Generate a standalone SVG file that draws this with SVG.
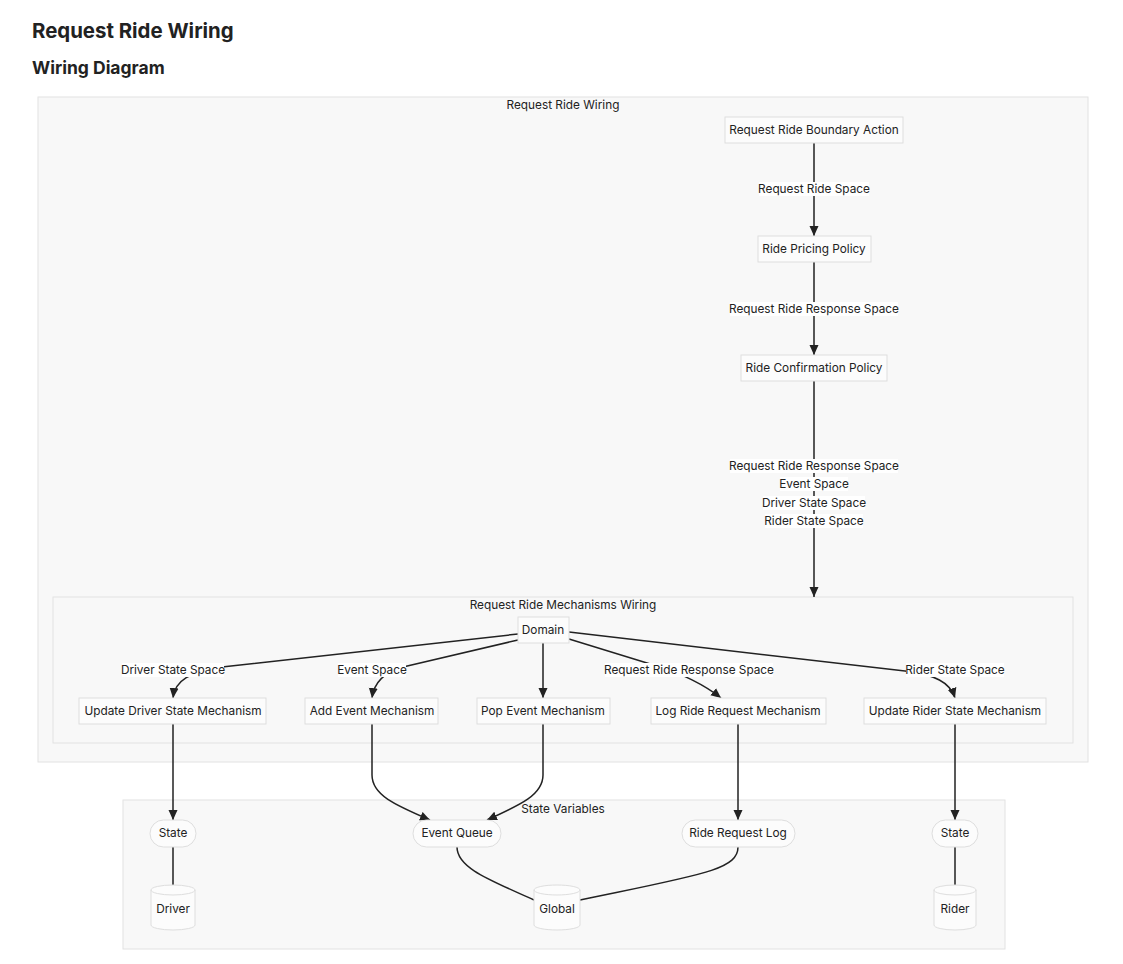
<svg xmlns="http://www.w3.org/2000/svg" width="1123" height="964" viewBox="0 0 1123 964">
<defs>
<marker id="arr" viewBox="0 0 10 10" refX="10" refY="5" markerWidth="10" markerHeight="10" orient="auto" markerUnits="userSpaceOnUse"><path d="M0,0.5 L10,5 L0,9.5 z" fill="#222"/></marker>
<style>
.t{font-family:Inter,"Liberation Sans",sans-serif;font-size:11.8px;fill:#222;text-anchor:middle;dominant-baseline:central}
.h1{font-family:Inter,"Liberation Sans",sans-serif;font-size:20.4px;font-weight:700;fill:#222}
.h2{font-family:Inter,"Liberation Sans",sans-serif;font-size:17.5px;font-weight:700;fill:#222}
.cl{fill:#f8f8f8;stroke:#e2e2e2;stroke-width:1}
.n{fill:#fcfcfc;stroke:#dedede;stroke-width:1}
.e{fill:none;stroke:#222;stroke-width:1.5}
.lb{fill:#ffffff}
</style>
</defs>
<rect width="1123" height="964" fill="#ffffff"/>
<text class="h1" x="32" y="38">Request Ride Wiring</text>
<text class="h2" x="32" y="74">Wiring Diagram</text>

<g id="cluster-wiring">
<rect class="cl" x="38" y="97" width="1050" height="665"/>
<text class="t" x="563" y="105">Request Ride Wiring</text>
</g>
<g id="cluster-mechanisms">
<rect class="cl" x="53" y="597" width="1020" height="146"/>
<text class="t" x="563" y="605">Request Ride Mechanisms Wiring</text>
</g>
<g id="cluster-state">
<rect class="cl" x="123" y="800" width="882" height="149"/>
<text class="t" x="563" y="809">State Variables</text>
</g>

<g id="connectors">
<path class="e" d="M814,143 L814,236" marker-end="url(#arr)"/>
<path class="e" d="M814,262 L814,355" marker-end="url(#arr)"/>
<path class="e" d="M814,381 L814,597" marker-end="url(#arr)"/>
<path class="e" d="M518,634 L222,667 C190,672 175,680 173,698" marker-end="url(#arr)"/>
<path class="e" d="M518,640 L403,667 C385,672 374,682 372,698" marker-end="url(#arr)"/>
<path class="e" d="M543,643 L543,698" marker-end="url(#arr)"/>
<path class="e" d="M569,639 L660,667 C680,673 705,685 721,698" marker-end="url(#arr)"/>
<path class="e" d="M569,632 L905,671 C935,675 950,682 955,698" marker-end="url(#arr)"/>
<path class="e" d="M173,724 L173,820" marker-end="url(#arr)"/>
<path class="e" d="M372,724 L372,775 C372,795 395,805 430,820" marker-end="url(#arr)"/>
<path class="e" d="M543,724 L543,775 C543,795 520,805 487,820" marker-end="url(#arr)"/>
<path class="e" d="M738,724 L738,820" marker-end="url(#arr)"/>
<path class="e" d="M955,724 L955,820" marker-end="url(#arr)"/>
<path class="e" d="M173,847 L173,885"/>
<path class="e" d="M457,847 C457,868 490,880 534,900"/>
<path class="e" d="M738,847 C738,870 700,875 580,900"/>
<path class="e" d="M955,847 L955,885"/>
</g>

<g id="edge-labels">
<rect class="lb" x="759" y="182" width="110" height="14"/>
<text class="t" x="814" y="189">Request Ride Space</text>
<rect class="lb" x="730" y="302" width="168" height="14"/>
<text class="t" x="814" y="309">Request Ride Response Space</text>
<rect class="lb" x="730" y="459" width="168" height="14"/>
<text class="t" x="814" y="466">Request Ride Response Space</text>
<rect class="lb" x="780" y="477" width="68" height="14"/>
<text class="t" x="814" y="484">Event Space</text>
<rect class="lb" x="763" y="496" width="102" height="14"/>
<text class="t" x="814" y="503">Driver State Space</text>
<rect class="lb" x="765" y="514" width="98" height="14"/>
<text class="t" x="814" y="521">Rider State Space</text>
<rect class="lb" x="122" y="663" width="102" height="14"/>
<text class="t" x="173" y="670">Driver State Space</text>
<rect class="lb" x="338" y="663" width="68" height="14"/>
<text class="t" x="372" y="670">Event Space</text>
<rect class="lb" x="605" y="663" width="168" height="14"/>
<text class="t" x="689" y="670">Request Ride Response Space</text>
<rect class="lb" x="906" y="663" width="98" height="14"/>
<text class="t" x="955" y="670">Rider State Space</text>
</g>

<g id="node-boundary"><rect class="n" x="725" y="117" width="178" height="26"/><text class="t" x="814" y="130">Request Ride Boundary Action</text></g>
<g id="node-pricing"><rect class="n" x="758" y="236" width="113" height="26"/><text class="t" x="814" y="249">Ride Pricing Policy</text></g>
<g id="node-confirmation"><rect class="n" x="741" y="355" width="146" height="26"/><text class="t" x="814" y="368">Ride Confirmation Policy</text></g>
<g id="node-domain"><rect class="n" x="518" y="617" width="51" height="26"/><text class="t" x="543" y="630">Domain</text></g>
<g id="node-update-driver"><rect class="n" x="79" y="698" width="187" height="26"/><text class="t" x="173" y="711">Update Driver State Mechanism</text></g>
<g id="node-add-event"><rect class="n" x="305" y="698" width="133" height="26"/><text class="t" x="372" y="711">Add Event Mechanism</text></g>
<g id="node-pop-event"><rect class="n" x="477" y="698" width="133" height="26"/><text class="t" x="543" y="711">Pop Event Mechanism</text></g>
<g id="node-log-ride"><rect class="n" x="651" y="698" width="175" height="26"/><text class="t" x="738" y="711">Log Ride Request Mechanism</text></g>
<g id="node-update-rider"><rect class="n" x="864" y="698" width="182" height="26"/><text class="t" x="955" y="711">Update Rider State Mechanism</text></g>

<g id="node-driver-state"><rect class="n" x="150" y="820" width="46" height="27" rx="13.5"/><text class="t" x="173" y="833">State</text></g>
<g id="node-event-queue"><rect class="n" x="413" y="820" width="88" height="27" rx="13.5"/><text class="t" x="457" y="833">Event Queue</text></g>
<g id="node-ride-request-log"><rect class="n" x="682" y="820" width="113" height="27" rx="13.5"/><text class="t" x="738" y="833">Ride Request Log</text></g>
<g id="node-rider-state"><rect class="n" x="932" y="820" width="46" height="27" rx="13.5"/><text class="t" x="955" y="833">State</text></g>

<g id="node-driver"><path class="n" d="M151,890 a22,5 0 0 0 44,0 a22,5 0 0 0 -44,0 l0,35 a22,5 0 0 0 44,0 l0,-35"/><text class="t" x="173" y="909">Driver</text></g>
<g id="node-global"><path class="n" d="M534,890 a23,5 0 0 0 46,0 a23,5 0 0 0 -46,0 l0,35 a23,5 0 0 0 46,0 l0,-35"/><text class="t" x="557" y="909">Global</text></g>
<g id="node-rider"><path class="n" d="M934,890 a21,5 0 0 0 42,0 a21,5 0 0 0 -42,0 l0,35 a21,5 0 0 0 42,0 l0,-35"/><text class="t" x="955" y="909">Rider</text></g>
</svg>
